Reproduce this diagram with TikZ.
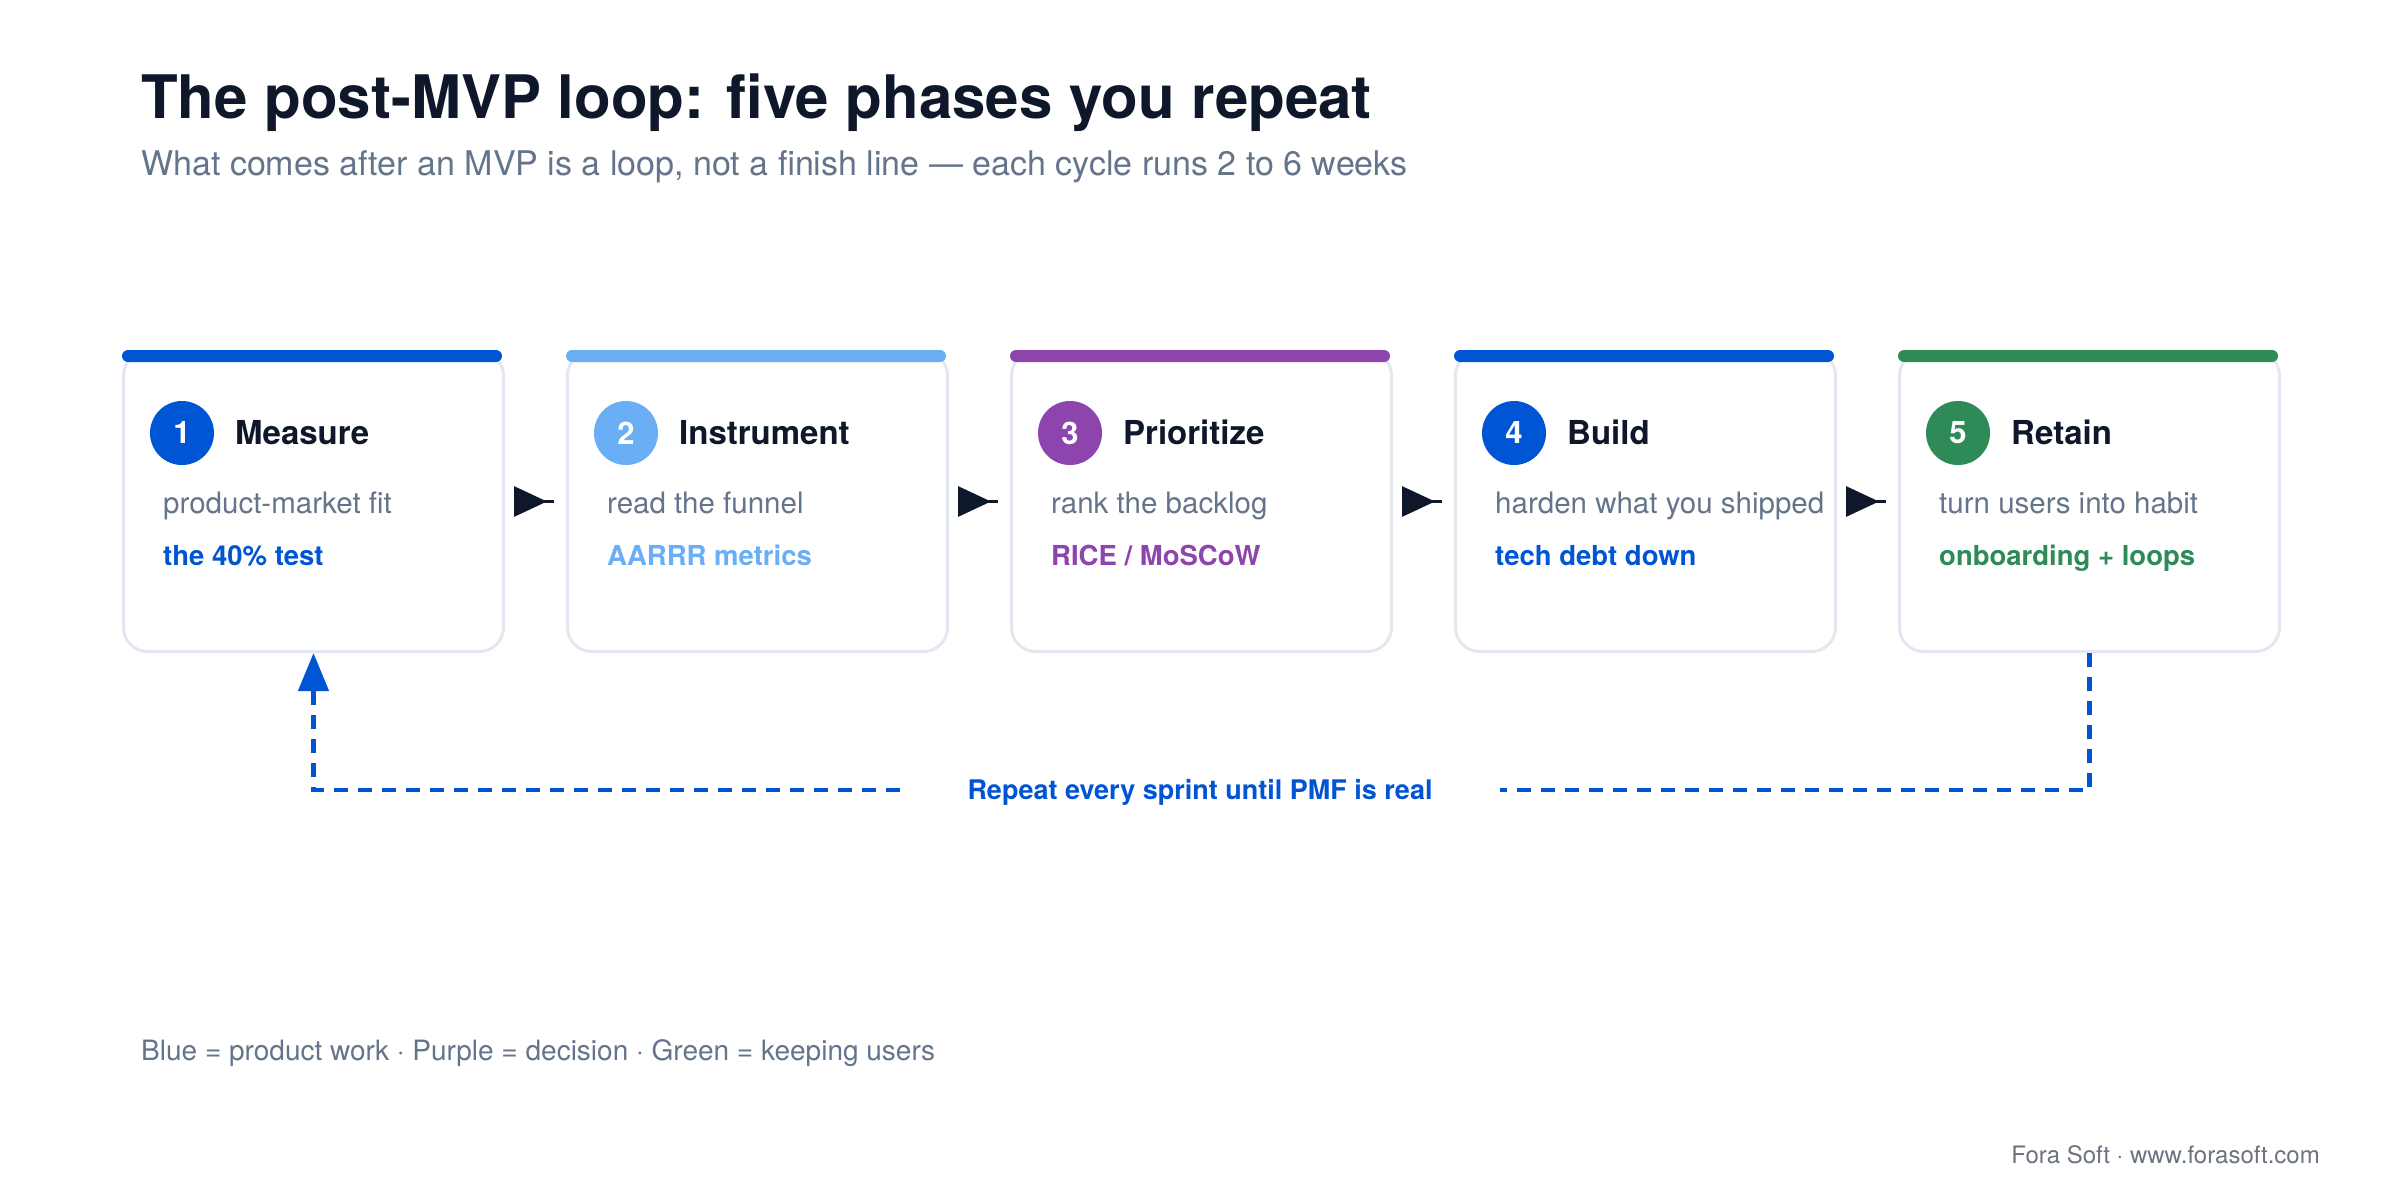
\documentclass[tikz,border=0pt]{standalone}
\usepackage{fontspec}
\setmainfont{TeX Gyre Heros}
\usetikzlibrary{arrows.meta}
\definecolor{ink}{HTML}{0F172A}
\definecolor{slate}{HTML}{64748B}
\definecolor{cardline}{HTML}{E2E8F0}
\definecolor{cblue}{HTML}{0055D4}
\definecolor{clight}{HTML}{6AAEF5}
\definecolor{cpurple}{HTML}{8E44AD}
\definecolor{cgreen}{HTML}{2E8B57}
\definecolor{foot}{HTML}{6B7280}
\tikzset{
  cardbox/.style={draw=cardline, line width=3pt, fill=white, rounded corners=24pt,
    minimum width=380pt, minimum height=300pt, inner sep=0pt, anchor=north west},
  numdot/.style={circle, inner sep=0pt, minimum size=64pt, text=white,
    font=\fontsize{31}{31}\selectfont\bfseries},
  phasetitle/.style={anchor=base west, inner sep=0pt, text=ink,
    font=\fontsize{33}{33}\selectfont\bfseries},
  phasesub/.style={anchor=base west, inner sep=0pt, text=slate,
    font=\fontsize{29.5}{29.5}\selectfont},
  phasetag/.style={anchor=base west, inner sep=0pt,
    font=\fontsize{27.5}{27.5}\selectfont\bfseries},
  flowline/.style={draw=ink, line width=3pt},
  loopline/.style={draw=cblue, line width=4.5pt, dash pattern=on 14pt off 10pt},
}
\begin{document}
\begin{tikzpicture}[x=1pt, y=-1pt]
\useasboundingbox[fill=white] (0,0) rectangle (2400,1200);

\node[anchor=base west, inner sep=0pt, text=ink, font=\fontsize{60}{60}\selectfont\bfseries] (title) at (141,118) {The post-MVP loop: five phases you repeat};
\node[anchor=base west, inner sep=0pt, text=slate, font=\fontsize{34}{34}\selectfont] (subtitle) at (141,175) {What comes after an MVP is a loop, not a finish line — each cycle runs 2 to 6 weeks};

\foreach \i/\x/\col/\ttl/\sub/\tag in {
  1/122/cblue/Measure/product-market fit/{the 40\% test},
  2/566/clight/Instrument/read the funnel/AARRR metrics,
  3/1010/cpurple/Prioritize/rank the backlog/{RICE / MoSCoW},
  4/1454/cblue/Build/harden what you shipped/tech debt down,
  5/1898/cgreen/Retain/turn users into habit/{onboarding + loops}}{
  \node[cardbox] (c\i) at (\x,350) {};
  \fill[\col, rounded corners=6pt] (\x,350) rectangle ++(380,12);
  \node[numdot, fill=\col] (n\i) at (\x+60,433) {\i};
  \node[phasetitle] (t\i) at (\x+113,444) {\ttl};
  \node[phasesub] (s\i) at (\x+41,513) {\sub};
  \node[phasetag, text=\col] (g\i) at (\x+41,565) {\tag};
}

\foreach \a/\b in {1/2,2/3,3/4,4/5}{
  \draw[flowline, -{Triangle[length=33pt,width=30pt]}] ([xshift=12pt]c\a.east) -- ([xshift=-19pt]c\b.west);
  \draw[flowline] ([xshift=-22pt]c\b.west) -- ([xshift=-12pt]c\b.west);
}

\node[inner xsep=67pt, inner ysep=0pt, text height=19pt, text depth=0pt, text=cblue,
  font=\fontsize{27}{27}\selectfont\bfseries] (lbl) at (1200,790) {Repeat every sprint until PMF is real};
\draw[loopline] (c5.south) |- (lbl.east);
\draw[loopline, -{Triangle[length=38pt,width=30pt]}] (lbl.west) -| (c1.south);

\node[anchor=base west, inner sep=0pt, text=slate, font=\fontsize{28}{28}\selectfont] (legend) at (141,1060) {Blue = product work · Purple = decision · Green = keeping users};
\node[anchor=base east, inner sep=0pt, text=foot, font=\fontsize{24}{24}\selectfont] (footer) at (2320,1163) {Fora Soft · www.forasoft.com};
\end{tikzpicture}
\end{document}
